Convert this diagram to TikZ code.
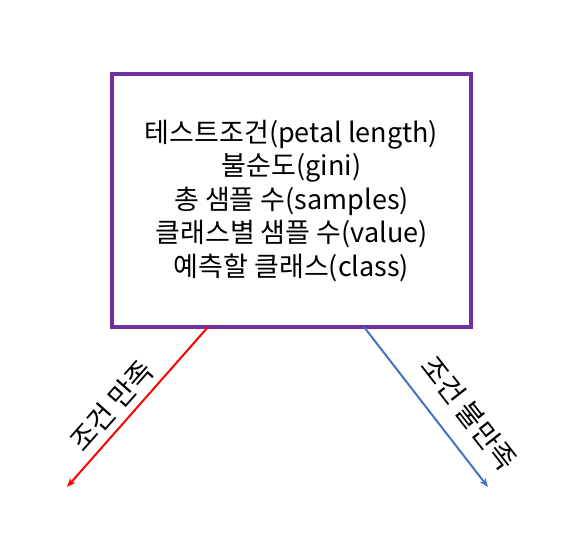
\documentclass[tikz,border=0pt]{standalone}
\usepackage{fontspec}
\setmainfont{Noto Sans CJK KR}
\usetikzlibrary{arrows.meta}
\definecolor{boxpurple}{HTML}{7030A0}
\definecolor{arrred}{HTML}{FF0000}
\definecolor{arrblue}{HTML}{4472C4}
\begin{document}
\begin{tikzpicture}[x=1pt,y=-1pt,
  mainbox/.style={draw=boxpurple,line width=4pt,minimum width=359pt,minimum height=253pt,inner sep=0pt,align=center,font=\fontsize{27}{33.5}\selectfont},
  yesarrow/.style={draw=arrred,line width=2pt,-{Stealth[length=9pt,width=7pt]}},
  noarrow/.style={draw=arrblue,line width=2pt,-{Stealth[length=9pt,width=7pt]}},
  lbl/.style={font=\fontsize{28}{30}\selectfont,inner sep=0pt}]
\useasboundingbox (0,0) rectangle (585,544);
\node[mainbox] (box) at (291.5,200.5) {테스트조건(petal length)\\불순도(gini)\\총 샘플 수(samples)\\클래스별 샘플 수(value)\\예측할 클래스(class)};
\coordinate (ys) at (208,327);
\coordinate (ye) at (67,487);
\coordinate (ns) at (364,327);
\coordinate (ne) at (488,487);
\draw[yesarrow] (ys) -- (ye);
\draw[noarrow] (ns) -- (ne);
\node[lbl,rotate=48.6] (ylbl) at (112,406) {조건 만족};
\node[lbl,rotate=-52] (nlbl) at (469,413) {조건 불만족};
\end{tikzpicture}
\end{document}
